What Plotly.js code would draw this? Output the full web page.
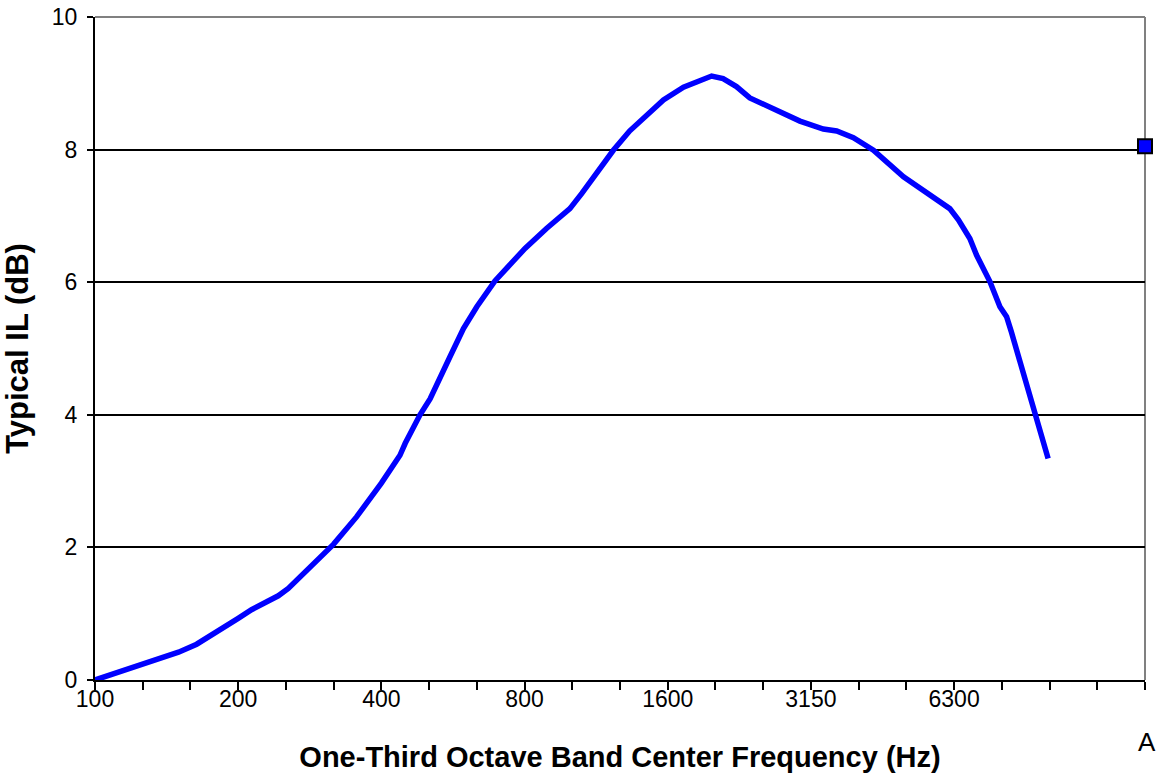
<!DOCTYPE html>
<html>
<head>
<meta charset="utf-8">
<script src="https://cdn.plot.ly/plotly-3.0.1.min.js"></script>
<style>
  html, body { margin: 0; padding: 0; background: #ffffff; }
  #chart { width: 1157px; height: 782px; }
</style>
</head>
<body>
<div id="chart"></div>
<script>
// One-third octave band centre frequencies (category axis, one slot per band)
const bandLabels = ['100','125','160','200','250','315','400','500','630','800','1000','1250',
                    '1600','2000','2500','3150','4000','5000','6300','8000','10000','12500','16000'];
// Labels shown on the axis (every third band)
const shownLabels = ['100','200','400','800','1600','3150','6300'];

// Curve samples: position along the band axis (band index, 0 = 100 Hz) and typical IL (dB)
const bandPos = [0, 1.01, 1.75, 2.13, 2.76, 3.0, 3.28, 3.67, 3.84, 4.05, 4.57, 5.0, 5.48, 6.0,
                 6.39, 6.5, 6.81, 7.02, 7.44, 7.72, 8.0, 8.38, 8.69, 9.01, 9.46, 9.81, 9.95,
                 10.2, 10.58, 10.86, 11.2, 11.63, 11.91, 12.33, 12.6, 12.92, 13.16, 13.44,
                 13.72, 14.0, 14.42, 14.77, 15.26, 15.54, 15.89, 16.31, 16.94, 17.77, 17.91,
                 18.09, 18.33, 18.47, 18.61, 18.75, 18.96, 19.1, 19.2, 19.31, 19.52, 19.69, 19.97];
const typicalIL = [0, 0.25, 0.42, 0.54, 0.84, 0.93, 1.06, 1.21, 1.27, 1.38, 1.76, 2.05, 2.46, 2.97,
                   3.39, 3.57, 4.0, 4.24, 4.88, 5.30, 5.63, 6.02, 6.26, 6.51, 6.81, 7.04, 7.11,
                   7.34, 7.72, 7.99, 8.28, 8.55, 8.75, 8.94, 9.02, 9.11, 9.07, 8.95,
                   8.78, 8.69, 8.55, 8.43, 8.31, 8.28, 8.18, 7.99, 7.59, 7.19, 7.11,
                   6.94, 6.66, 6.41, 6.23, 6.01, 5.63, 5.48, 5.25, 4.98, 4.47, 4.0, 3.34];

// Stray legend-key marker visible at the right edge of the reference crop
const strayKeyPos = [22];
const strayKeyVal = [8.05];

const tickVals = bandLabels.map((_, i) => i);
const tickText = bandLabels.map(l => shownLabels.includes(l) ? l : '');

const traces = [
  {
    x: bandPos, y: typicalIL, type: 'scatter', mode: 'lines',
    line: { color: '#0000FF', width: 5.5 },
    hoverinfo: 'skip', showlegend: false
  },
  {
    x: strayKeyPos, y: strayKeyVal, type: 'scatter', mode: 'markers',
    marker: { symbol: 'square', size: 14, color: '#0000FF', line: { color: '#000000', width: 2 } },
    cliponaxis: false, hoverinfo: 'skip', showlegend: false
  }
];

const layout = {
  width: 1157, height: 782,
  margin: { l: 95, r: 12, t: 17, b: 102, pad: 0 },
  paper_bgcolor: '#ffffff', plot_bgcolor: '#ffffff',
  font: { family: 'Liberation Sans, Arial, sans-serif', color: '#000000', size: 20 },
  xaxis: {
    range: [0, 22], type: 'linear',
    tickmode: 'array', tickvals: tickVals, ticktext: tickText,
    ticks: 'outside', ticklen: 8, tickwidth: 2, tickcolor: '#000000',
    ticklabelstandoff: -11,
    showline: true, linecolor: '#000000', linewidth: 2,
    showgrid: false, zeroline: false,
    tickfont: { size: 23 },
    title: { text: '<b>One-Third Octave Band Center Frequency (Hz)</b>', font: { size: 29 }, standoff: 36 }
  },
  yaxis: {
    range: [0, 10], dtick: 2, tick0: 0,
    ticks: 'outside', ticklen: 6, tickwidth: 2, tickcolor: '#000000',
    ticklabelstandoff: 5,
    showline: true, linecolor: '#000000', linewidth: 2,
    showgrid: true, gridcolor: '#000000', gridwidth: 2,
    zeroline: false,
    tickfont: { size: 23 },
    title: { text: '<b>Typical IL (dB)</b>', font: { size: 31 }, standoff: 14 }
  },
  shapes: [
    { type: 'line', xref: 'paper', yref: 'paper', x0: 0, x1: 1, y0: 1, y1: 1,
      line: { color: '#808080', width: 2 }, layer: 'above' },
    { type: 'line', xref: 'paper', yref: 'paper', x0: 1, x1: 1, y0: 0, y1: 1,
      line: { color: '#808080', width: 2 }, layer: 'below' }
  ],
  annotations: [
    { text: 'A', xref: 'paper', yref: 'paper', x: 1.0, y: -0.093, xanchor: 'left', yanchor: 'middle',
      xshift: -9, showarrow: false, font: { size: 26, color: '#000000' } }
  ]
};

Plotly.newPlot('chart', traces, layout, { displayModeBar: false, staticPlot: true });
</script>
</body>
</html>
